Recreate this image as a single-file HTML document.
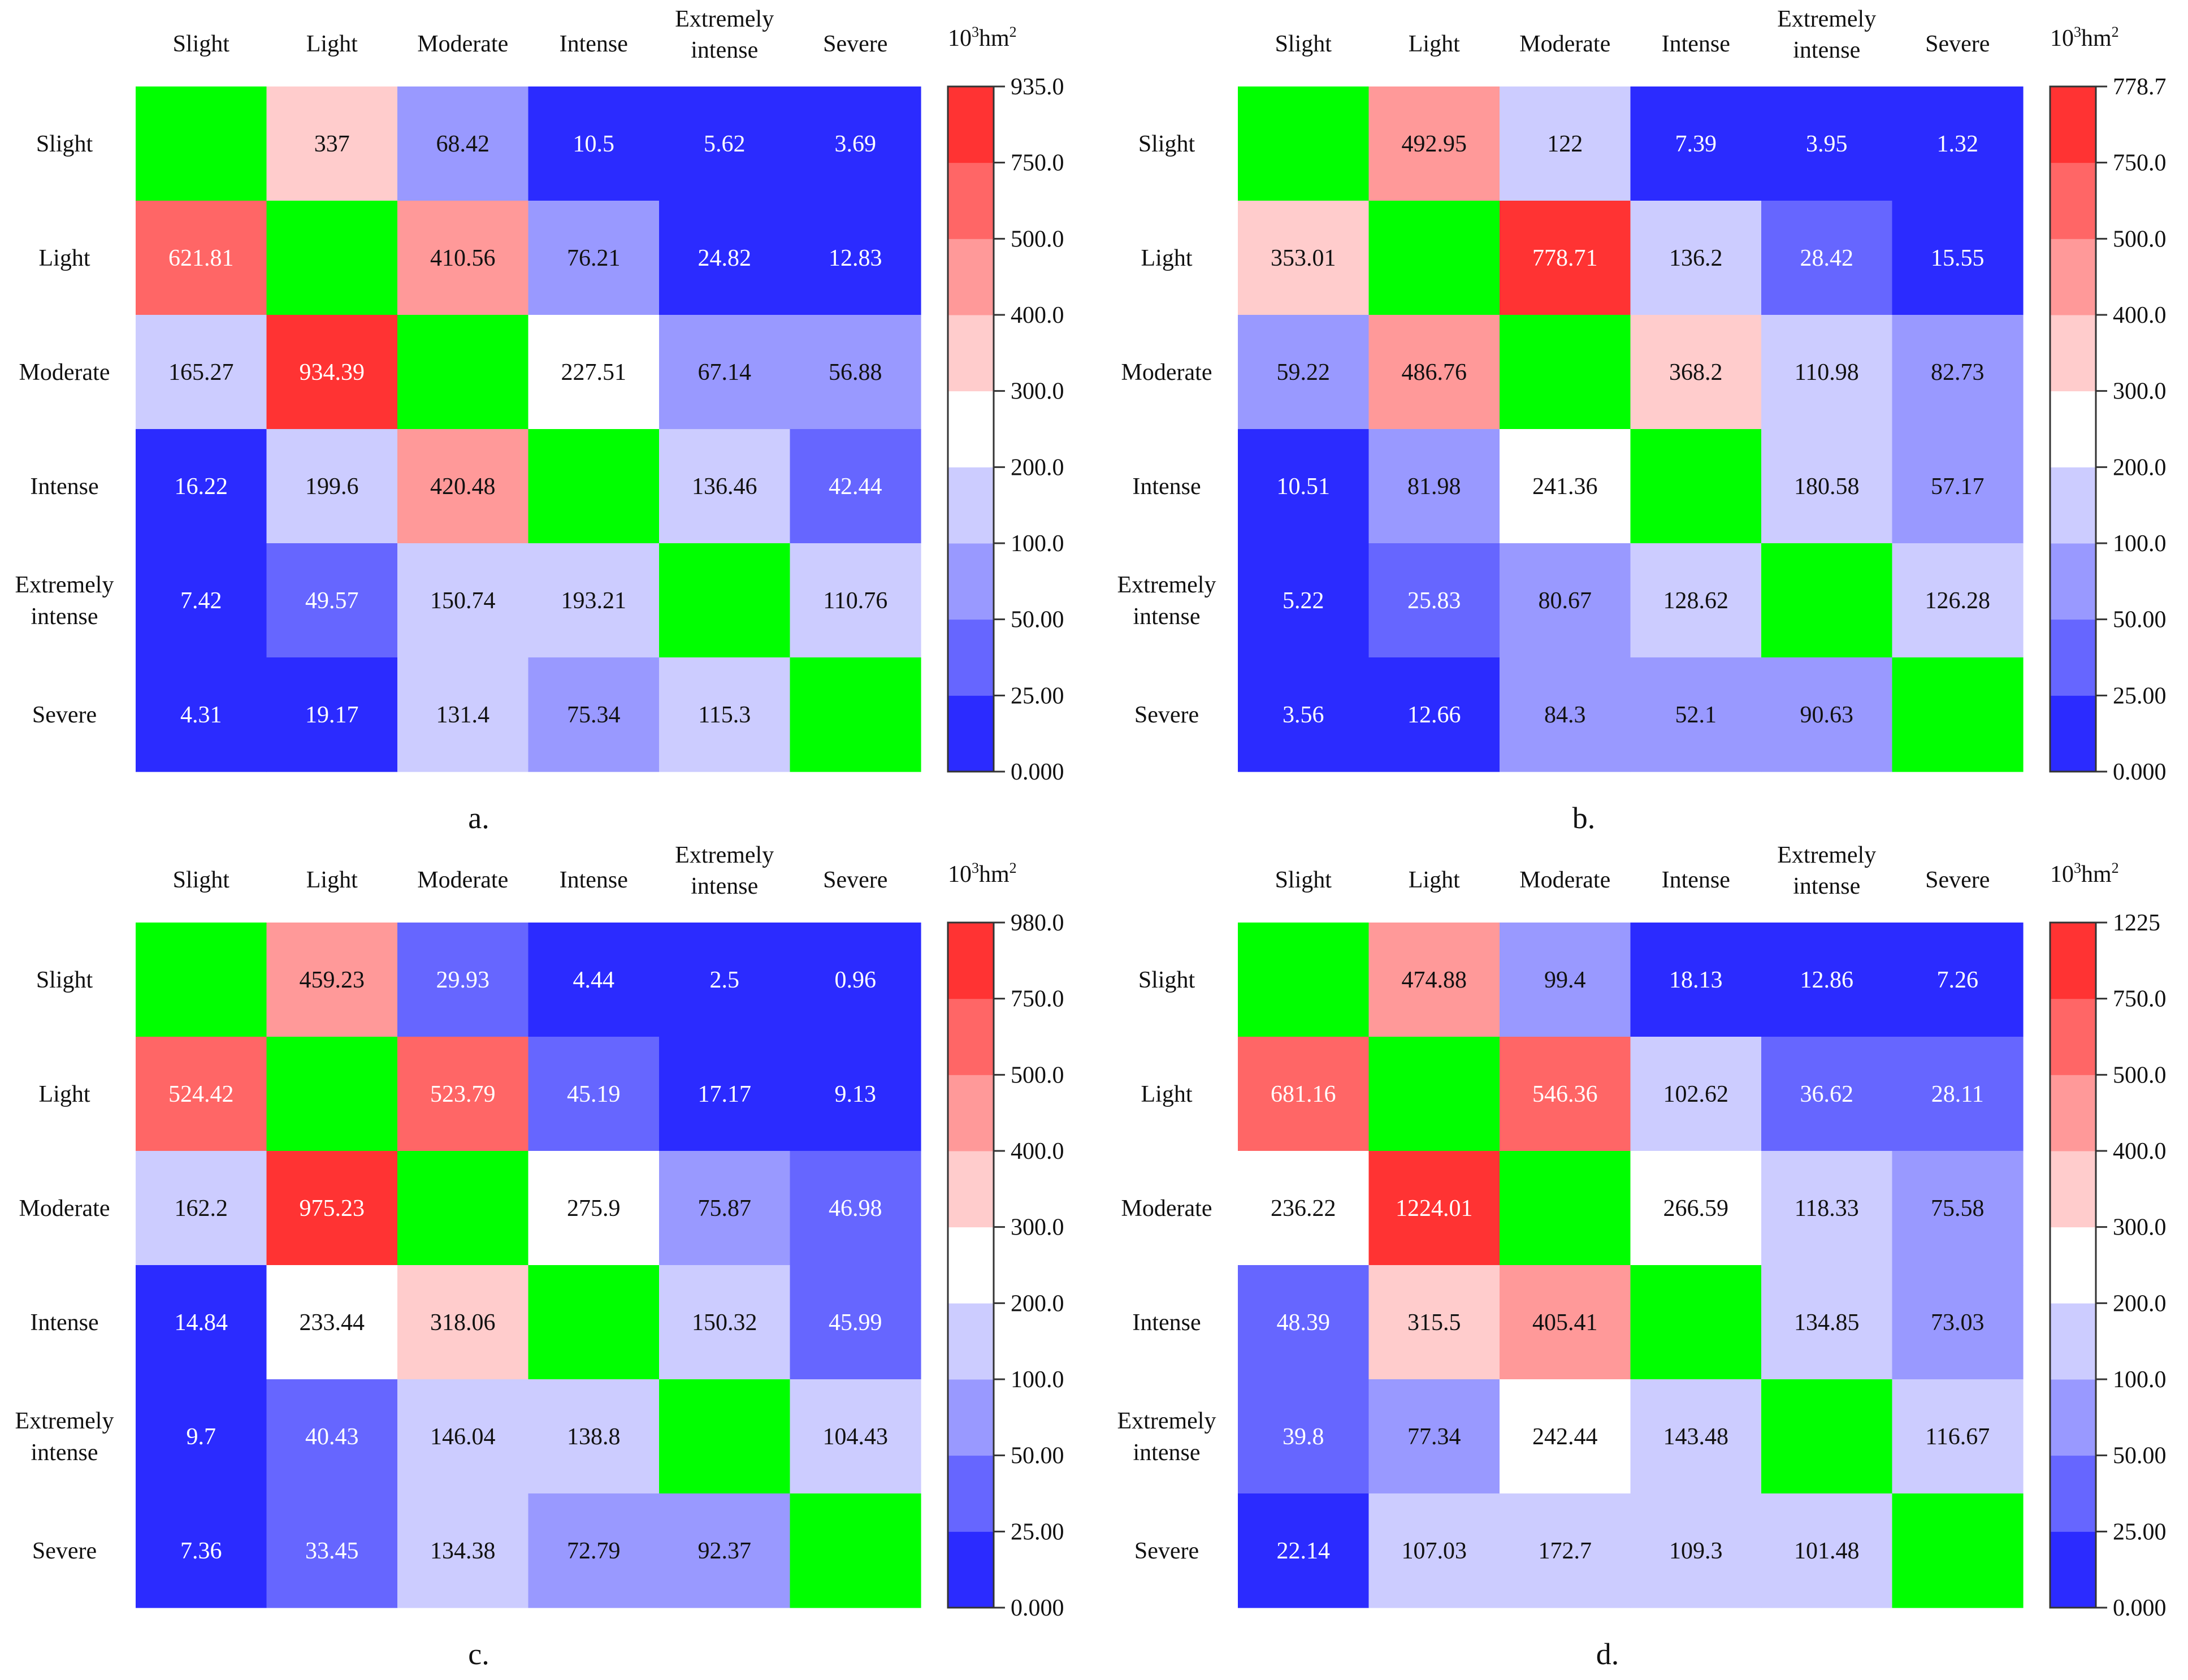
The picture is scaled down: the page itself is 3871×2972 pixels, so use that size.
<!DOCTYPE html>
<html><head><meta charset="utf-8"><style>
html,body{margin:0;padding:0;background:#fff;}
svg{display:block;font-family:"Liberation Serif","DejaVu Serif",serif;}
svg text{font-family:"Liberation Serif","DejaVu Serif",serif;}
</style></head><body>
<svg id="chart" width="3871" height="2972" viewBox="0 0 3871 2972" xmlns="http://www.w3.org/2000/svg" font-family="Liberation Serif, DejaVu Serif, serif"></svg>
<script>
const categories = ["Slight","Light","Moderate","Intense","Extremely intense","Severe"];
const panelLetters = ["a.","b.","c.","d."];
const valuesA = [
 [null,337,68.42,10.5,5.62,3.69],
 [621.81,null,410.56,76.21,24.82,12.83],
 [165.27,934.39,null,227.51,67.14,56.88],
 [16.22,199.6,420.48,null,136.46,42.44],
 [7.42,49.57,150.74,193.21,null,110.76],
 [4.31,19.17,131.4,75.34,115.3,null]];
const valuesB = [
 [null,492.95,122,7.39,3.95,1.32],
 [353.01,null,778.71,136.2,28.42,15.55],
 [59.22,486.76,null,368.2,110.98,82.73],
 [10.51,81.98,241.36,null,180.58,57.17],
 [5.22,25.83,80.67,128.62,null,126.28],
 [3.56,12.66,84.3,52.1,90.63,null]];
const valuesC = [
 [null,459.23,29.93,4.44,2.5,0.96],
 [524.42,null,523.79,45.19,17.17,9.13],
 [162.2,975.23,null,275.9,75.87,46.98],
 [14.84,233.44,318.06,null,150.32,45.99],
 [9.7,40.43,146.04,138.8,null,104.43],
 [7.36,33.45,134.38,72.79,92.37,null]];
const valuesD = [
 [null,474.88,99.4,18.13,12.86,7.26],
 [681.16,null,546.36,102.62,36.62,28.11],
 [236.22,1224.01,null,266.59,118.33,75.58],
 [48.39,315.5,405.41,null,134.85,73.03],
 [39.8,77.34,242.44,143.48,null,116.67],
 [22.14,107.03,172.7,109.3,101.48,null]];
const thresholds = [0,25,50,100,200,300,400,500,750];
const maxLabels = ["935.0","778.7","980.0","1225"];
const tickLabels = ["0.000","25.00","50.00","100.0","200.0","300.0","400.0","500.0","750.0"];
const bandColors = ["#2b2bff","#6666ff","#9999ff","#ccccff","#ffffff","#ffcccc","#ff9999","#ff6666","#ff3333"];
const textColors = ["#fff","#fff","#111","#111","#111","#111","#111","#fff","#fff"];

const NS="http://www.w3.org/2000/svg";
const FF="Liberation Serif, DejaVu Serif, serif";
const svg=document.getElementById('chart');
function mk(tag,attrs,parent){const e=document.createElementNS(NS,tag);for(const k in attrs)e.setAttribute(k,attrs[k]);if(tag==='text')e.setAttribute('font-family',FF);(parent||svg).appendChild(e);return e;}
function band(v){let b=0;for(let i=0;i<thresholds.length;i++)if(v>=thresholds[i])b=i;return b;}

const panels=[{x:240,y:153,v:valuesA,lx:847,ly:1465},{x:2190,y:153,v:valuesB,lx:2802,ly:1465},
 {x:240,y:1632,v:valuesC,lx:847,ly:2944},{x:2190,y:1632,v:valuesD,lx:2844,ly:2944}];
const CW=231.5, CH=202;
const xCell=(p,j)=>p.x+j*CW, yCell=(p,i)=>p.y+i*CH;

panels.forEach((p,pi)=>{
 const g=mk('g',{});
 
 
 p.v.forEach((row,i)=>row.forEach((val,j)=>{
   const fill = val===null ? "#00ff00" : bandColors[band(val)];
   const r=mk('rect',{x:xCell(p,j),y:yCell(p,i),width:CW+0.6,height:CH+0.6,fill:fill},g);
   
   
   if(val!==null){
     const t=mk('text',{x:xCell(p,j)+CW/2,y:yCell(p,i)+CH/2+14,'text-anchor':'middle','font-size':42,fill:textColors[band(val)]},g);
     t.textContent=String(val);
     
     
   }
 }));
 categories.forEach((c,k)=>{
   const cx=xCell(p,k)+CW/2;
   const parts=c==="Extremely intense"?["Extremely","intense"]:[c];
   const t=mk('text',{x:cx,'text-anchor':'middle','font-size':42,fill:'#111'},g);
   
   
   if(parts.length===1){t.setAttribute('y',p.y-62);t.textContent=c;}
   else parts.forEach((s,q)=>{const ts=mk('tspan',{x:cx,y:p.y-106+q*55},t);ts.textContent=s;});
   const rx=p.x-126, ry=yCell(p,k)+CH/2+14;
   const r=mk('text',{x:rx,'text-anchor':'middle','font-size':42,fill:'#111'},g);
   
   
   if(parts.length===1){r.setAttribute('y',ry);r.textContent=c;}
   else parts.forEach((s,q)=>{const ts=mk('tspan',{x:rx,y:ry-28+q*56},r);ts.textContent=s;});
 });
 const bx=p.x+1437, bw=81, H=6*CH, bh=H/bandColors.length;
 const cb=mk('g',{},g);
 
 
 bandColors.forEach((col,b)=>{mk('rect',{x:bx,y:p.y+H-(b+1)*bh,width:bw,height:bh+0.5,fill:col},cb);});
 mk('rect',{x:bx,y:p.y,width:bw,height:H,fill:'none',stroke:'#333','stroke-width':3},cb);
 const labs=tickLabels.concat([maxLabels[pi]]);
 labs.forEach((l,b)=>{
   const ty=p.y+H-b*bh;
   mk('line',{x1:bx+bw,x2:bx+bw+20,y1:ty,y2:ty,stroke:'#333','stroke-width':3},cb);
   const t=mk('text',{x:bx+bw+30,y:ty+14,'font-size':42,fill:'#111'},cb);
   t.textContent=l;
   
   
 });
 const u=mk('text',{x:bx,y:p.y-72,'font-size':42,fill:'#111'},g);
 
 
 u.innerHTML='10<tspan dy="-16" font-size="26">3</tspan><tspan dy="16">hm</tspan><tspan dy="-16" font-size="26">2</tspan>';
 const pl=mk('text',{x:p.lx,y:p.ly,'text-anchor':'middle','font-size':54,fill:'#111'},g);
 pl.textContent=panelLetters[pi];
 
 
});
</script>
</body></html>
